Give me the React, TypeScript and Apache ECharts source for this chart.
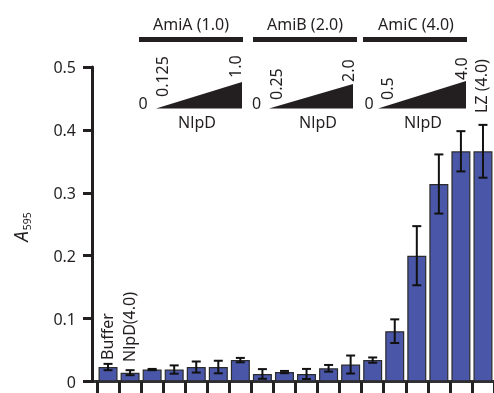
import React, { useEffect, useRef } from "react";
import * as echarts from "echarts";

const categories = [
  "Buffer", "NlpD (4.0)",
  "AmiA 0", "AmiA 0.125", "AmiA 0.25", "AmiA 0.5", "AmiA 1.0",
  "AmiB 0", "AmiB 0.25", "AmiB 0.5", "AmiB 1.0", "AmiB 2.0",
  "AmiC 0", "AmiC 0.5", "AmiC 1.0", "AmiC 2.0", "AmiC 4.0",
  "LZ (4.0)",
];
const values = [0.023, 0.014, 0.019, 0.019, 0.023, 0.023, 0.034, 0.012, 0.015, 0.012, 0.021, 0.027, 0.034, 0.080, 0.200, 0.314, 0.366, 0.366];
const errors = [0.005, 0.004, 0.001, 0.0066, 0.0088, 0.01, 0.0035, 0.0077, 0.0018, 0.008, 0.0053, 0.0143, 0.0042, 0.0188, 0.047, 0.047, 0.032, 0.042];
const yTicks = [0, 0.1, 0.2, 0.3, 0.4, 0.5];

const FONT = "Noto Sans";
const INK = "#231f20";
const BAR = "#4a57a8";

function txt(text: string, x: number, y: number, opts: any = {}) {
  return {
    type: "text",
    x,
    y,
    rotation: opts.rot ? Math.PI / 2 : 0,
    style: {
      text,
      fontFamily: FONT,
      fontSize: opts.size || 16,
      fill: INK,
      align: opts.align || "center",
      verticalAlign: opts.valign || "middle",
    },
  };
}

export default function App() {
  const ref = useRef<HTMLDivElement>(null);
  useEffect(() => {
    const chart = echarts.init(ref.current!, undefined, { renderer: "svg" });
    const errData = values.map((v, i) => [i, v - errors[i], v + errors[i]]);
    const groups = [
      { name: "AmiA (1.0)", cx: 191, bx: 139, tri: [156, 242, 82], lo: "0.125", hi: "1.0", zx: 143, lox: 162, loy: 97, hix: 235, hiy: 78, nx: 197 },
      { name: "AmiB (2.0)", cx: 305, bx: 253, tri: [269, 353, 84], lo: "0.25", hi: "2.0", zx: 256.5, lox: 276, loy: 100, hix: 347.5, hiy: 82, nx: 318 },
      { name: "AmiC (4.0)", cx: 416, bx: 363, tri: [378, 466, 81], lo: "0.5", hi: "4.0", zx: 369, lox: 386.5, loy: 100, hix: 461, hiy: 80, nx: 423 },
    ];
    const graphics: any[] = [];
    groups.forEach((g) => {
      graphics.push(txt(g.name, g.cx, 24));
      graphics.push({ type: "rect", shape: { x: g.bx, y: 37, width: 104, height: 5 }, style: { fill: INK } });
      graphics.push({
        type: "polygon",
        shape: { points: [[g.tri[0], 108.5], [g.tri[1], 108.5], [g.tri[1], g.tri[2]]] },
        style: { fill: INK },
      });
      graphics.push(txt("0", g.zx, 103));
      graphics.push(txt(g.lo, g.lox, g.loy, { rot: true, align: "left" }));
      graphics.push(txt(g.hi, g.hix, g.hiy, { rot: true, align: "left" }));
      graphics.push(txt("NlpD", g.nx, 122));
    });
    graphics.push(txt("LZ (4.0)", 481, 113, { rot: true, align: "left" }));
    graphics.push(txt("Buffer", 107, 360, { rot: true, align: "left" }));
    graphics.push(txt("NlpD(4.0)", 129, 362, { rot: true, align: "left" }));
    graphics.push({
      type: "text",
      x: 21,
      y: 227,
      rotation: Math.PI / 2,
      style: {
        text: "{a|A}{s|595}",
        align: "center",
        verticalAlign: "middle",
        rich: {
          a: { fontFamily: FONT, fontSize: 19, fontStyle: "italic", fill: INK, lineHeight: 22, verticalAlign: "middle" },
          s: { fontFamily: FONT, fontSize: 10.5, fill: INK, lineHeight: 22, verticalAlign: "bottom", padding: [0, 0, 0, 1] },
        },
      },
    });
    graphics.push({ type: "line", shape: { x1: 91, y1: 381.5, x2: 98, y2: 381.5 }, style: { stroke: "#333", lineWidth: 3 } });

    chart.setOption({
      animation: false,
      grid: { left: 97, top: 67, width: 398, height: 314.5 },
      xAxis: {
        type: "category",
        data: categories,
        axisLine: { lineStyle: { color: "#333", width: 3 } },
        axisTick: { show: true, interval: 0, alignWithLabel: false, length: 13, lineStyle: { color: "#222", width: 3 } },
        axisLabel: { show: false, interval: 0 },
        splitLine: { show: false },
      },
      yAxis: {
        type: "value",
        min: 0,
        max: 0.5,
        interval: 0.1,
        offset: 5,
        axisLine: { show: true, lineStyle: { color: INK, width: 3 } },
        axisTick: { show: true, length: 9, lineStyle: { color: INK, width: 3 } },
        axisLabel: {
          fontFamily: FONT,
          fontSize: 16,
          color: INK,
          margin: 16,
          formatter: (v: number) => {
            const t = yTicks.find((k) => Math.abs(k - v) < 1e-9);
            return t === 0 ? "0" : (t ?? v).toFixed(1);
          },
        },
        splitLine: { show: false },
      },
      series: [
        {
          type: "bar",
          data: values,
          barWidth: 19,
          itemStyle: { color: BAR, borderColor: "#2b2b2b", borderWidth: 1.2 },
        },
        {
          type: "custom",
          data: errData,
          z: 5,
          renderItem: (params: any, api: any) => {
            const i = api.value(0);
            const lo = api.coord([i, api.value(1)]);
            const hi = api.coord([i, api.value(2)]);
            const x = lo[0];
            const w = 4.5;
            const st = { stroke: "#111", lineWidth: 2 };
            return {
              type: "group",
              children: [
                { type: "line", shape: { x1: x, y1: lo[1], x2: x, y2: hi[1] }, style: st },
                { type: "line", shape: { x1: x - w, y1: lo[1], x2: x + w, y2: lo[1] }, style: st },
                { type: "line", shape: { x1: x - w, y1: hi[1], x2: x + w, y2: hi[1] }, style: st },
              ],
            };
          },
        },
      ],
      graphic: graphics,
    });
    return () => chart.dispose();
  }, []);
  return <div ref={ref} style={{ position: "fixed", left: 0, top: 0, width: 494, height: 393 }} />;
}
